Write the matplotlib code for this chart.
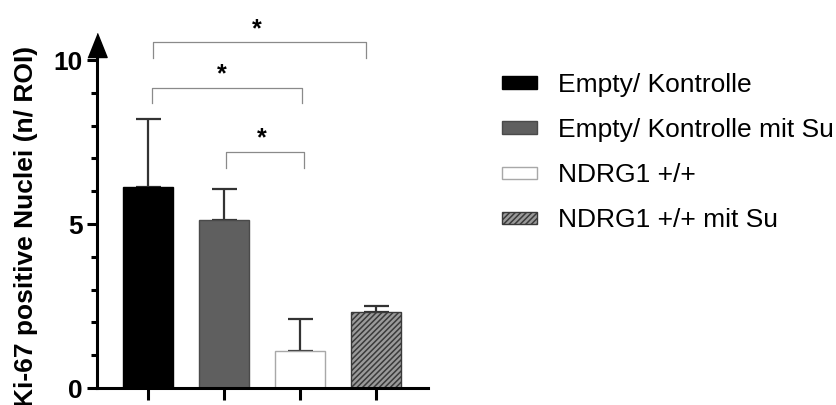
import numpy as np
import matplotlib
matplotlib.use('Agg')
import matplotlib.pyplot as plt
from matplotlib.patches import Patch

plt.rcParams['font.family'] = ['Liberation Sans', 'DejaVu Sans']
plt.rcParams['hatch.linewidth'] = 1.1

groups = ['Empty/ Kontrolle', 'Empty/ Kontrolle mit Su', 'NDRG1 +/+', 'NDRG1 +/+ mit Su']
means = [6.12, 5.12, 1.13, 2.31]
errors = [2.08, 0.95, 0.98, 0.19]
face = ['#000000', '#5f5f5f', '#ffffff', '#9a9a9a']
edge = ['#000000', '#4a4a4a', '#a8a8a8', '#3a3a3a']
hatch = [None, None, None, '//////']

# significance brackets: (x_left, x_right, y_top, y_drop, star_x, star_y)
brackets = [
    (0.07, 2.87, 10.55, 10.06, 1.43, 10.72),
    (0.05, 2.03, 9.15, 8.69, 0.97, 9.35),
    (1.03, 2.05, 7.20, 6.71, 1.50, 7.39),
]

fig = plt.figure(figsize=(8.37, 4.05), dpi=100)
ax = fig.add_axes([97 / 837, 1 - 388 / 405, (428 - 97) / 837, (388 - 43.6) / 405])

x = np.arange(len(groups))
for i in range(len(groups)):
    ax.bar(x[i], means[i], width=0.67, color=face[i], edgecolor=edge[i],
           linewidth=1.0, hatch=hatch[i], zorder=2)
    ax.errorbar(x[i], means[i], yerr=[[0], [errors[i]]], fmt='none',
                ecolor='#333333', elinewidth=1.6, capsize=9, capthick=1.6, zorder=1)

for x0, x1, yt, yd, sx, sy in brackets:
    ax.plot([x0, x0, x1, x1], [yd, yt, yt, yd], color='#8a8a8a', lw=0.9,
            clip_on=False)
    ax.text(sx, sy, '*', ha='center', va='baseline', fontsize=18,
            fontweight='bold', clip_on=False)

ax.set_xlim(-0.671, 3.684)
ax.set_ylim(0, 10.5)

for s in ['top', 'right']:
    ax.spines[s].set_visible(False)
for s in ['left', 'bottom']:
    ax.spines[s].set_linewidth(2.2)

ax.set_yticks([0, 5, 10])
ax.set_yticklabels(['0', '5', '10'], fontsize=19, fontweight='bold')
ax.set_yticks(np.arange(0, 11, 1), minor=True)
ax.tick_params(axis='y', which='major', length=7.2, width=2.2, pad=3)
ax.tick_params(axis='y', which='minor', length=4.3, width=2.2)
ax.set_xticks(x)
ax.set_xticklabels([])
ax.tick_params(axis='x', length=8.6, width=2.2)

# arrow head on top of the y axis
ax.plot([-0.671], [10.46], marker=[(-0.4, -0.5), (0.4, -0.5), (0, 0.5)],
        markersize=17.3, color='black', clip_on=False, zorder=5)

fig.text(26 / 837, 1 - 226 / 405, 'Ki-67 positive Nuclei (n/ ROI)', rotation=90,
         ha='center', va='center', fontsize=19, fontweight='bold')

handles = [Patch(facecolor=face[i], edgecolor=edge[i], hatch=hatch[i], linewidth=1.0)
           for i in range(len(groups))]
fig.legend(handles, groups, loc='upper left', bbox_to_anchor=(502 / 837, 1 - 73 / 405),
           frameon=False, fontsize=19, handlelength=1.33, handleheight=0.34,
           handletextpad=0.8, labelspacing=0.8, borderpad=0, borderaxespad=0)

fig.savefig('out.png', dpi=100)
